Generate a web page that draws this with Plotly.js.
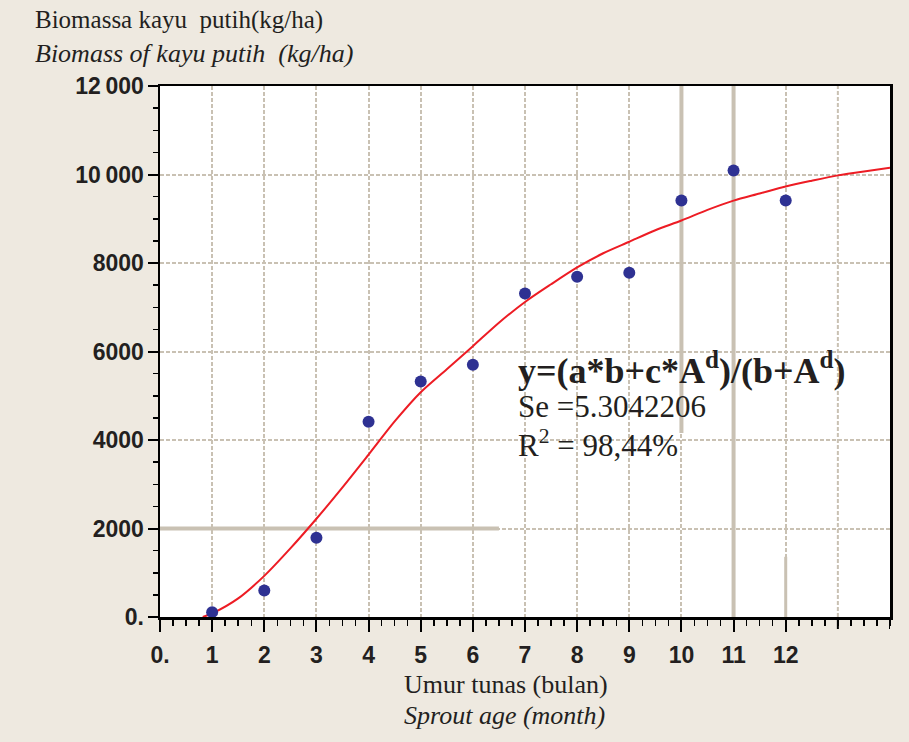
<!DOCTYPE html>
<html>
<head>
<meta charset="utf-8">
<script src="https://cdn.plot.ly/plotly-3.0.1.min.js"></script>
<style>
html,body{margin:0;padding:0;background:#EEE9E0;}
#chart{width:909px;height:742px;}
</style>
</head>
<body>
<div id="chart"></div>
<script>
// Observed biomass (kg/ha) by sprout age (month)
const ageMonths = [1, 2, 3, 4, 5, 6, 7, 8, 9, 10, 11, 12];
const biomass = [110, 600, 1790, 4410, 5320, 5700, 7310, 7690, 7780, 9410, 10090, 9410];

// Fitted MMF curve
const curveX = [0.82, 1, 1.5, 2, 2.5, 3, 3.5, 4, 4.5, 5, 5.5, 6, 6.5, 7, 7.5, 8, 8.5, 9, 9.5, 10, 10.5, 11, 11.5, 12, 12.5, 13, 13.5, 14];
const curveY = [0, 80, 420, 930, 1550, 2220, 2930, 3670, 4420, 5080, 5600, 6120, 6650, 7120, 7520, 7900, 8220, 8480, 8740, 8960, 9200, 9410, 9570, 9730, 9860, 9980, 10070, 10150];

const xTickVals = [0, 1, 2, 3, 4, 5, 6, 7, 8, 9, 10, 11, 12];
const xTickText = ['0.', '1', '2', '3', '4', '5', '6', '7', '8', '9', '10', '11', '12'];
const xExtraTicks = [13, 14];
const yTickVals = [0, 2000, 4000, 6000, 8000, 10000, 12000];
const yTickText = ['0.', '2000', '4000', '6000', '8000', '10\u2009000', '12\u2009000'];

const txt = '#231F20';
const gridC = '#C9C1B3';
const serif = 'Liberation Serif, Times New Roman, serif';
const sans = 'Liberation Sans, Arial, sans-serif';

const traces = [
  {
    x: curveX, y: curveY, type: 'scatter', mode: 'lines',
    line: {color: '#ED1C24', width: 2, shape: 'spline', smoothing: 0.8},
    hoverinfo: 'skip', showlegend: false
  },
  {
    x: ageMonths, y: biomass, type: 'scatter', mode: 'markers',
    marker: {color: '#2E3192', size: 12, symbol: 'circle'},
    showlegend: false
  }
];

const shapes = [
  {type: 'line', layer: 'between', xref: 'x', yref: 'y', x0: 10, x1: 10, y0: 4160, y1: 12000, line: {color: gridC, width: 4}},
  {type: 'line', layer: 'between', xref: 'x', yref: 'y', x0: 11, x1: 11, y0: 0, y1: 12000, line: {color: gridC, width: 4}},
  {type: 'line', layer: 'between', xref: 'x', yref: 'y', x0: 12, x1: 12, y0: 0, y1: 1360, line: {color: gridC, width: 3}},
  {type: 'line', layer: 'between', xref: 'x', yref: 'y', x0: 0, x1: 6.5, y0: 2000, y1: 2000, line: {color: gridC, width: 4}}
];
xExtraTicks.forEach(function (v) {
  if (v < 14) {
    shapes.push({type: 'line', layer: 'between', xref: 'x', yref: 'paper', x0: v, x1: v, y0: 0, y1: 1, line: {color: gridC, width: 2, dash: '4px,2px'}});
  }
  shapes.push({type: 'line', layer: 'above', xref: 'x', yref: 'paper', x0: v, x1: v, y0: 0, y1: -12 / 531, line: {color: '#000', width: 2}});
});

const layout = {
  width: 909, height: 742,
  paper_bgcolor: '#EEE9E0',
  plot_bgcolor: '#FFFFFF',
  margin: {l: 160, r: 19, t: 86, b: 125},
  showlegend: false,
  xaxis: {
    range: [0, 14], fixedrange: true,
    tickmode: 'array', tickvals: xTickVals, ticktext: xTickText,
    ticks: 'outside', ticklen: 12, tickwidth: 2, tickcolor: '#000',
    ticklabelstandoff: 4,
    tickfont: {family: sans, size: 23, color: txt, weight: 'bold'},
    showline: true, linecolor: '#000', linewidth: 2.5, mirror: true,
    showgrid: true, gridcolor: gridC, gridwidth: 2, griddash: '4px,2px',
    zeroline: false,
    minor: {dtick: 0.25, tick0: 0, ticks: 'outside', ticklen: 6, tickwidth: 1.5, tickcolor: '#000', showgrid: false}
  },
  yaxis: {
    range: [0, 12000], fixedrange: true,
    tickmode: 'array', tickvals: yTickVals, ticktext: yTickText,
    ticks: 'outside', ticklen: 10, tickwidth: 2, tickcolor: '#000',
    ticklabelstandoff: -1,
    tickfont: {family: sans, size: 23, color: txt, weight: 'bold'},
    showline: true, linecolor: '#000', linewidth: 2.5, mirror: true,
    showgrid: true, gridcolor: gridC, gridwidth: 2, griddash: '4px,2px',
    zeroline: false,
    minor: {dtick: 500, tick0: 0, ticks: 'outside', ticklen: 5, tickwidth: 1.5, tickcolor: '#000', showgrid: false}
  },
  shapes: shapes,
  annotations: [
    {text: 'Biomassa kayu  putih(kg/ha)', xref: 'paper', yref: 'paper', x: -0.174, y: 1.124, xanchor: 'left', yanchor: 'middle', showarrow: false, font: {family: serif, size: 25, color: txt}},
    {text: '<i>Biomass of kayu putih  (kg/ha)</i>', xref: 'paper', yref: 'paper', x: -0.174, y: 1.062, xanchor: 'left', yanchor: 'middle', showarrow: false, font: {family: serif, size: 26, color: txt}},
    {text: 'Umur tunas (bulan)', xref: 'paper', yref: 'paper', x: 0.3315, y: -0.128, xanchor: 'left', yanchor: 'middle', showarrow: false, font: {family: serif, size: 26, color: txt}},
    {text: '<i>Sprout age (month)</i>', xref: 'paper', yref: 'paper', x: 0.3315, y: -0.185, xanchor: 'left', yanchor: 'middle', showarrow: false, font: {family: serif, size: 26, color: txt}},
    {text: '<b>y=(a*b+c*A<sup>d</sup>)/(b+A<sup>d</sup>)</b>', xref: 'paper', yref: 'paper', x: 0.4877, y: 0.468, xanchor: 'left', yanchor: 'middle', showarrow: false, font: {family: serif, size: 36, color: txt}},
    {text: 'Se =5.3042206', xref: 'paper', yref: 'paper', x: 0.4877, y: 0.396, xanchor: 'left', yanchor: 'middle', showarrow: false, font: {family: serif, size: 31, color: txt}},
    {text: 'R<sup>2</sup> = 98,44%', xref: 'paper', yref: 'paper', x: 0.4877, y: 0.326, xanchor: 'left', yanchor: 'middle', showarrow: false, font: {family: serif, size: 31, color: txt}}
  ]
};

Plotly.newPlot('chart', traces, layout, {displayModeBar: false, staticPlot: true});
</script>
</body>
</html>
